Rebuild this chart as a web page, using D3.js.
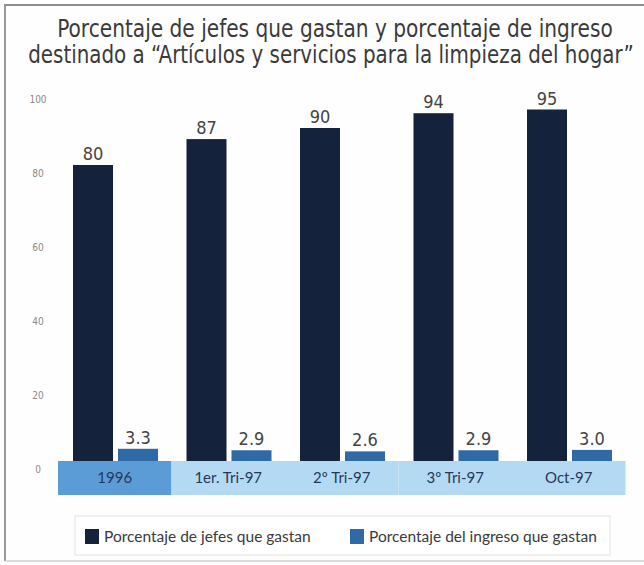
<!DOCTYPE html>
<html>
<head>
<meta charset="utf-8">
<script src="https://cdn.jsdelivr.net/npm/d3@7"></script>
<style>
  html, body { margin: 0; padding: 0; background: #fff; }
  svg { display: block; }
</style>
</head>
<body>
<svg></svg>
<script>
// Данные графика
const titleLines = [
  "Porcentaje de jefes que gastan y porcentaje de ingreso",
  "destinado a \u201cArtículos y servicios para la limpieza del hogar\u201d"
];
const categories = ["1996", "1er. Tri-97", "2\u00ba Tri-97", "3\u00ba Tri-97", "Oct-97"];
const jefesValues = [80, 87, 90, 94, 95];
const ingresoValues = [3.3, 2.9, 2.6, 2.9, 3.0];
const yTicks = [0, 20, 40, 60, 80, 100];
const seriesKeys = ["jefes", "ingreso"];
const seriesNames = ["Porcentaje de jefes que gastan", "Porcentaje del ingreso que gastan"];

const width = 644;
const height = 565;

const colors = { jefes: "#15223b", ingreso: "#2f6aa6" };
const narrow = "'Liberation Sans Narrow', 'Arial Narrow', 'DejaVu Sans Condensed', sans-serif";
const round = "Lato, 'Noto Sans', sans-serif";

const svg = d3.select("svg")
  .attr("width", width)
  .attr("height", height);

// Рамка
svg.append("rect").attr("width", width).attr("height", height).attr("fill", "#fefefe");
svg.append("line").attr("x1", 4).attr("x2", width).attr("y1", 5).attr("y2", 5)
  .attr("stroke", "#8d8d8d").attr("stroke-width", 2);
svg.append("line").attr("x1", 5).attr("x2", 5).attr("y1", 5).attr("y2", 561)
  .attr("stroke", "#9a9a9a").attr("stroke-width", 2);
svg.append("line").attr("x1", 5).attr("x2", width).attr("y1", 561).attr("y2", 561)
  .attr("stroke", "#d0d0d0").attr("stroke-width", 1.5);

// Заголовок (сжимаем по горизонтали под ширину оригинала)
const titleWidths = [556, 606];
const titleX = [335, 331];
svg.append("g").selectAll("text")
  .data(titleLines)
  .join("text")
  .attr("text-anchor", "middle")
  .style("font-family", narrow)
  .style("font-size", "24px")
  .style("fill", "#3a3a3a")
  .text(d => d)
  .attr("transform", function(d, i) {
    const k = titleWidths[i] / this.getComputedTextLength();
    return `translate(${titleX[i]},${37 + i * 26}) scale(${k},1)`;
  });

// Шкалы
const x = d3.scaleBand().domain(categories).range([58, 625.5]).padding(0);
const x1 = d3.scaleBand().domain(seriesKeys).range([15, 100]).paddingInner(0.111).paddingOuter(0);
const y = d3.scaleLinear().domain([0, 100]).range([461, 91]);

// Подписи оси Y
svg.append("g").selectAll("text")
  .data(yTicks)
  .join("text")
  .attr("x", 38)
  .attr("y", d => y(d) + 8)
  .attr("dy", "0.35em")
  .attr("text-anchor", "middle")
  .style("font-family", narrow)
  .style("font-size", "10px")
  .style("fill", "#8a8a8a")
  .text(d => d);

// Полоса категорий
const band = svg.append("g");
band.selectAll("rect")
  .data(categories)
  .join("rect")
  .attr("x", d => x(d))
  .attr("y", y(0))
  .attr("width", x.bandwidth())
  .attr("height", 34)
  .attr("fill", (d, i) => i === 0 ? "#5c9cd6" : "#b4daf3");
band.selectAll("text")
  .data(categories)
  .join("text")
  .attr("x", d => x(d) + x.bandwidth() / 2)
  .attr("y", y(0) + 17)
  .attr("dy", "0.35em")
  .attr("text-anchor", "middle")
  .style("font-family", round)
  .style("font-size", "15px")
  .style("fill", "#27375a")
  .text(d => d);

// Столбцы
const rows = categories.map((c, i) => ({ cat: c, jefes: jefesValues[i], ingreso: ingresoValues[i] }));
const fmt = { jefes: d3.format("d"), ingreso: d3.format(".1f") };

const groups = svg.append("g").selectAll("g")
  .data(rows)
  .join("g")
  .attr("transform", d => `translate(${x(d.cat)},0)`);

groups.selectAll("rect")
  .data(d => seriesKeys.map(k => ({ key: k, value: d[k] })))
  .join("rect")
  .attr("x", d => x1(d.key))
  .attr("y", d => y(d.value))
  .attr("width", x1.bandwidth())
  .attr("height", d => y(0) - y(d.value))
  .attr("fill", d => colors[d.key]);

groups.selectAll("text")
  .data(d => seriesKeys.map(k => ({ key: k, value: d[k] })))
  .join("text")
  .attr("x", d => x1(d.key) + x1.bandwidth() / 2)
  .attr("y", d => y(d.value) - 5)
  .attr("text-anchor", "middle")
  .style("font-family", narrow)
  .style("font-size", "18px")
  .style("fill", "#444")
  .text(d => fmt[d.key](d.value));

// Легенда
const legend = svg.append("g");
legend.append("rect")
  .attr("x", 75).attr("y", 516).attr("width", 535).attr("height", 39)
  .attr("fill", "#fff").attr("stroke", "#e2e2e2");
const legendX = [85, 350];
const item = legend.selectAll("g")
  .data(seriesKeys)
  .join("g")
  .attr("transform", (d, i) => `translate(${legendX[i]},529)`);
item.append("rect")
  .attr("width", 14).attr("height", 15)
  .attr("fill", d => colors[d]);
item.append("text")
  .attr("x", 19).attr("y", 8).attr("dy", "0.35em")
  .style("font-family", round)
  .style("font-size", "15.5px")
  .style("fill", "#3a3a3a")
  .text((d, i) => seriesNames[i]);
</script>
</body>
</html>
